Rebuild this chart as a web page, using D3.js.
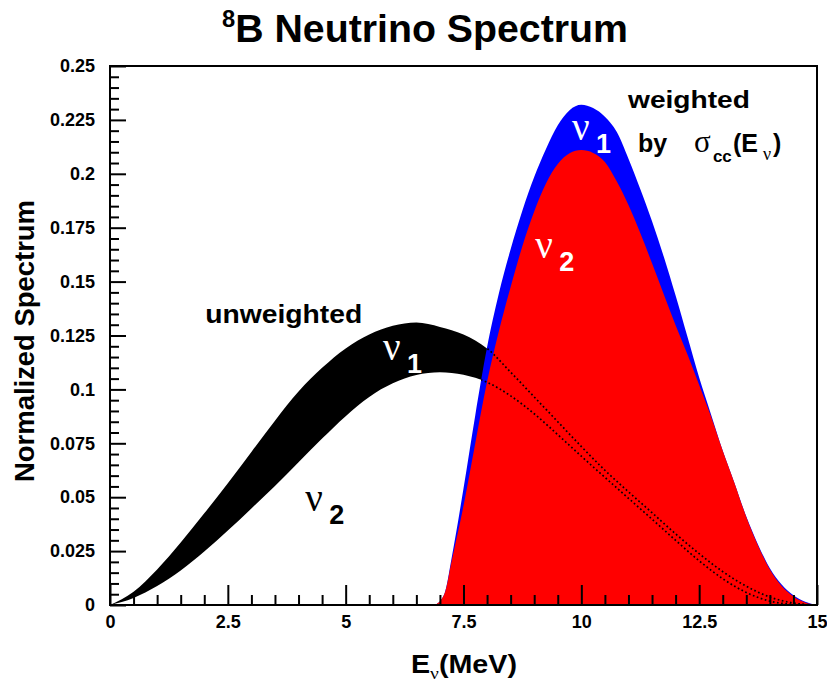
<!DOCTYPE html>
<html>
<head>
<meta charset="utf-8">
<script src="https://cdn.jsdelivr.net/npm/d3@7"></script>
<style>
  body { margin: 0; background: #fff; }
  svg { display: block; }
</style>
</head>
<body>
<svg id="chart" width="827" height="688"></svg>
<script>
// ---- data -------------------------------------------------------------
// Unweighted 8B spectra (two curves bounding the black band), E in MeV
const energy = [0, 0.5, 1, 1.5, 2, 2.5, 3, 3.5, 4, 4.5, 5, 5.5, 6, 6.5, 7, 7.5,
                8, 8.5, 9, 9.5, 10, 10.5, 11, 11.5, 12, 12.5, 13, 13.5, 14, 14.5, 15];
const unweightedNu1 = [0, 0.0062, 0.0165, 0.029, 0.0425, 0.0565, 0.071, 0.0855, 0.099, 0.110,
                       0.119, 0.1255, 0.1295, 0.131, 0.129, 0.1255, 0.119, 0.108, 0.0965, 0.085,
                       0.0735, 0.0625, 0.0525, 0.0428, 0.033, 0.0238, 0.0155, 0.0087, 0.0037, 0.0009, 0];
const unweightedNu2 = [0, 0.0033, 0.0088, 0.016, 0.0248, 0.0345, 0.0448, 0.0552, 0.0662, 0.0772,
                       0.0876, 0.0965, 0.1028, 0.1067, 0.108, 0.1068, 0.1033, 0.097, 0.0887, 0.079,
                       0.069, 0.0592, 0.0495, 0.0398, 0.030, 0.0205, 0.0122, 0.0058, 0.0018, 0.0003, 0];

// Spectra weighted by the CC cross section
const weightedEnergy = [6.9, 7.1, 7.25, 7.5, 7.75, 8, 8.25, 8.5, 8.75, 9, 9.25, 9.5, 9.75,
                        10, 10.25, 10.5, 10.75, 11, 11.25, 11.5, 11.75, 12, 12.25, 12.5, 12.75,
                        13, 13.25, 13.5, 13.75, 14, 14.25, 14.5, 14.75, 15];
const weightedNu1 = [0, 0.0055, 0.022, 0.054, 0.088, 0.1195, 0.1445, 0.165, 0.183, 0.1985,
                     0.2115, 0.2225, 0.2295, 0.232, 0.2305, 0.2265, 0.2195, 0.207, 0.193, 0.178,
                     0.1615, 0.1435, 0.1245, 0.1055, 0.0885, 0.0715, 0.0565, 0.041, 0.028, 0.017,
                     0.0095, 0.0045, 0.0015, 0];
const weightedNu2 = [0, 0.0054, 0.0205, 0.046, 0.075, 0.1035, 0.127, 0.1475, 0.1665, 0.1825,
                     0.1955, 0.2045, 0.2095, 0.211, 0.2097, 0.2055, 0.1965, 0.1855, 0.1725, 0.1585,
                     0.144, 0.1298, 0.1163, 0.102, 0.0875, 0.0715, 0.0565, 0.0408, 0.0275, 0.0165,
                     0.0088, 0.004, 0.0012, 0];

const xTickValues = [0, 2.5, 5, 7.5, 10, 12.5, 15];
const xTickLabels = ["0", "2.5", "5", "7.5", "10", "12.5", "15"];
const yTickValues = [0, 0.025, 0.05, 0.075, 0.1, 0.125, 0.15, 0.175, 0.2, 0.225, 0.25];
const yTickLabels = ["0", "0.025", "0.05", "0.075", "0.1", "0.125", "0.15", "0.175", "0.2", "0.225", "0.25"];

// ---- layout -----------------------------------------------------------
const sans = "'Liberation Sans', Arial, Helvetica, sans-serif";
const serif = "'Liberation Serif', 'Times New Roman', serif";
const plot = { left: 110, right: 817, top: 66, bottom: 605 };

const svg = d3.select("#chart");
const x = d3.scaleLinear().domain([0, 15]).range([plot.left, plot.right]);
const y = d3.scaleLinear().domain([0, 0.25]).range([plot.bottom, plot.top]);

// ---- unweighted band (black), drawn up to where the weighted curves take over
const bandIdx = energy.map((e, i) => i).filter(i => energy[i] <= 8.5);
svg.append("path")
  .datum(bandIdx)
  .attr("fill", "#000")
  .attr("d", d3.area()
    .x(i => x(energy[i]))
    .y0(i => y(unweightedNu2[i]))
    .y1(i => y(unweightedNu1[i]))
    .curve(d3.curveMonotoneX));

// ---- weighted spectra (blue outer, red inner)
const wIdx = weightedEnergy.map((e, i) => i);
const blueArea = d3.area()
  .x(i => x(weightedEnergy[i]))
  .y0(y(0))
  .y1(i => y(weightedNu1[i]))
  .curve(d3.curveMonotoneX);
const redArea = d3.area()
  .x(i => x(weightedEnergy[i]))
  .y0(y(0))
  .y1(i => y(weightedNu2[i]))
  .curve(d3.curveMonotoneX);

svg.append("path").datum(wIdx).attr("fill", "#0000ff").attr("d", blueArea);
svg.append("path").datum(wIdx).attr("fill", "#ff0000").attr("d", redArea);

// dotted continuation of the unweighted curves inside the weighted region
svg.append("clipPath").attr("id", "weightedClip")
  .append("path").datum(wIdx).attr("d", blueArea);

const allIdx = energy.map((e, i) => i);
[unweightedNu1, unweightedNu2].forEach(series => {
  svg.append("path")
    .datum(allIdx)
    .attr("clip-path", "url(#weightedClip)")
    .attr("fill", "none")
    .attr("stroke", "#000")
    .attr("stroke-width", 1.7)
    .attr("stroke-dasharray", "1.7,2.5")
    .attr("d", d3.line()
      .x(i => x(energy[i]))
      .y(i => y(series[i]))
      .curve(d3.curveMonotoneX));
});

// ---- frame and axes ---------------------------------------------------
svg.append("rect")
  .attr("x", plot.left).attr("y", plot.top)
  .attr("width", plot.right - plot.left).attr("height", plot.bottom - plot.top)
  .attr("fill", "none").attr("stroke", "#000").attr("stroke-width", 2);

function styleAxis(g) {
  g.select(".domain").remove();
  g.selectAll(".tick line").attr("stroke-width", 2);
  g.selectAll(".tick text")
    .attr("font-family", sans).attr("font-weight", "bold")
    .attr("font-size", 18).attr("fill", "#000");
}

const xMinor = d3.range(0, 15.001, 0.5).filter(v => Math.abs(v / 2.5 - Math.round(v / 2.5)) > 1e-6);
const yMinor = d3.range(0, 0.2501, 0.005).filter(v => Math.abs(v / 0.025 - Math.round(v / 0.025)) > 1e-6);

svg.append("g").attr("transform", `translate(0,${plot.bottom})`)
  .call(d3.axisBottom(x).tickValues(xMinor).tickSize(-10).tickSizeOuter(0).tickFormat(""))
  .call(styleAxis);
svg.append("g").attr("transform", `translate(0,${plot.bottom})`)
  .call(d3.axisBottom(x).tickValues(xTickValues).tickSize(-20).tickSizeOuter(0)
    .tickPadding(10).tickFormat((d, i) => xTickLabels[i]))
  .call(styleAxis);

svg.append("g").attr("transform", `translate(${plot.left},0)`)
  .call(d3.axisLeft(y).tickValues(yMinor).tickSize(-9).tickSizeOuter(0).tickFormat(""))
  .call(styleAxis);
svg.append("g").attr("transform", `translate(${plot.left},0)`)
  .call(d3.axisLeft(y).tickValues(yTickValues).tickSize(-16).tickSizeOuter(0)
    .tickPadding(15).tickFormat((d, i) => yTickLabels[i]))
  .call(styleAxis);

// ---- titles -----------------------------------------------------------
const title = svg.append("text")
  .attr("x", 425).attr("y", 42)
  .attr("text-anchor", "middle")
  .attr("font-family", sans).attr("font-weight", "bold").attr("font-size", 38)
  .attr("textLength", 406).attr("lengthAdjust", "spacingAndGlyphs");
title.append("tspan").attr("font-size", 23).attr("dy", -15).text("8");
title.append("tspan").attr("dy", 15).text("B Neutrino Spectrum");

svg.append("text")
  .attr("transform", "translate(34,341) rotate(-90)")
  .attr("text-anchor", "middle")
  .attr("font-family", sans).attr("font-weight", "bold").attr("font-size", 27)
  .attr("textLength", 282).attr("lengthAdjust", "spacingAndGlyphs")
  .text("Normalized Spectrum");

const xl = svg.append("text")
  .attr("x", 411).attr("y", 673)
  .attr("font-family", sans).attr("font-weight", "bold").attr("font-size", 25)
  .attr("textLength", 106).attr("lengthAdjust", "spacingAndGlyphs");
xl.append("tspan").text("E");
xl.append("tspan").attr("font-family", serif).attr("font-weight", "normal")
  .attr("font-size", 17).attr("dy", 6).text("ν");
xl.append("tspan").attr("dy", -6).text("(MeV)");

// ---- annotations ------------------------------------------------------
function nuLabel(E, v, sub, color) {
  const px = x(E), py = y(v);
  const t = svg.append("text").attr("fill", color);
  t.append("tspan").attr("x", px).attr("y", py)
    .attr("font-family", serif).attr("font-size", 39).text("ν");
  t.append("tspan").attr("x", px + 24).attr("y", py + 13)
    .attr("font-family", sans).attr("font-weight", "bold").attr("font-size", 27).text(sub);
}

svg.append("text")
  .attr("x", x(2.02)).attr("y", y(0.1308))
  .attr("font-family", sans).attr("font-weight", "bold").attr("font-size", 25)
  .attr("textLength", 157).attr("lengthAdjust", "spacingAndGlyphs")
  .text("unweighted");

nuLabel(5.79, 0.1136, "1", "#fff");
nuLabel(4.14, 0.0436, "2", "#000");
nuLabel(9.80, 0.2157, "1", "#fff");
nuLabel(9.02, 0.161, "2", "#fff");

svg.append("text")
  .attr("x", x(10.99)).attr("y", y(0.2305))
  .attr("font-family", sans).attr("font-weight", "bold").attr("font-size", 24)
  .attr("textLength", 122).attr("lengthAdjust", "spacingAndGlyphs")
  .text("weighted");

{
  const bx = x(11.2), by = y(0.2101);
  const t = svg.append("text").attr("fill", "#000")
    .attr("font-family", sans).attr("font-weight", "bold");
  t.append("tspan").attr("x", bx).attr("y", by).attr("font-size", 25).text("by");
  t.append("tspan").attr("x", bx + 56).attr("y", by).attr("font-family", serif)
    .attr("font-weight", "normal").attr("font-size", 31).text("σ");
  t.append("tspan").attr("x", bx + 75).attr("y", by + 10).attr("font-size", 17).text("cc");
  t.append("tspan").attr("x", bx + 95).attr("y", by).attr("font-size", 25).text("(E");
  t.append("tspan").attr("x", bx + 125).attr("y", by + 8).attr("font-family", serif)
    .attr("font-weight", "normal").attr("font-size", 18).text("ν");
  t.append("tspan").attr("x", bx + 135).attr("y", by).attr("font-size", 25).text(")");
}
</script>
</body>
</html>
